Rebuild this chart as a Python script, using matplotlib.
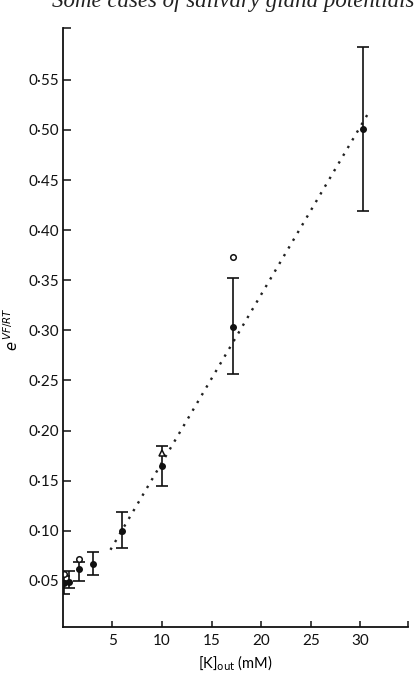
import matplotlib.pyplot as plt

# Data
k_out = [0.1, 0.6, 1.6, 3.0, 6.0, 10.0, 17.2, 30.3]          # mM
e_mean = [0.048, 0.049, 0.062, 0.067, 0.100, 0.165, 0.303, 0.501]
e_low = [0.037, 0.043, 0.050, 0.056, 0.083, 0.145, 0.256, 0.419]
e_high = [0.055, 0.060, 0.069, 0.079, 0.119, 0.185, 0.352, 0.583]

open_circle_k = [0.1, 1.6, 17.2]
open_circle_e = [0.057, 0.072, 0.373]
open_tri_k = [10.0]
open_tri_e = [0.178]

fit_k = [4.8, 30.8]
fit_e = [0.081, 0.517]

x_ticks = [5, 10, 15, 20, 25, 30]
y_ticks = [0.05, 0.10, 0.15, 0.20, 0.25, 0.30, 0.35, 0.40, 0.45, 0.50, 0.55]

plt.rcParams['font.family'] = ['Lato', 'DejaVu Sans']

fig = plt.figure(figsize=(4.19, 6.77), dpi=100)
ax = fig.add_axes([0.150, 0.074, 0.824, 0.885])

# dotted regression line
ax.plot(fit_k, fit_e, linestyle=(0, (1, 2.8)), color='#222222', linewidth=1.7)

yerr = [[m - lo for m, lo in zip(e_mean, e_low)],
        [hi - m for m, hi in zip(e_mean, e_high)]]
ax.errorbar(k_out, e_mean, yerr=yerr, fmt='o', color='#111111', markersize=4,
            elinewidth=1.2, capsize=4, capthick=1.2)

ax.plot(open_circle_k, open_circle_e, 'o', markerfacecolor='white',
        markeredgecolor='#111111', markersize=4, markeredgewidth=1.1)
ax.plot(open_tri_k, open_tri_e, '^', markerfacecolor='white',
        markeredgecolor='#111111', markersize=4.5, markeredgewidth=1.1)

ax.set_xlim(0, 34.8)
ax.set_ylim(0.004, 0.602)

ax.set_xticks(x_ticks + [34.8])
ax.set_xticklabels([str(t) for t in x_ticks] + [''])
ax.set_yticks(y_ticks + [0.602])
ax.set_yticklabels([f'{t:.2f}'.replace('.', '\u00b7') for t in y_ticks] + [''])

ax.tick_params(direction='in', width=1.1, labelsize=11, colors='#111111')
ax.tick_params(axis='y', length=6, pad=3)
ax.tick_params(axis='x', length=4, pad=5)
for side in ['top', 'right']:
    ax.spines[side].set_visible(False)
for side in ['left', 'bottom']:
    ax.spines[side].set_linewidth(1.3)
    ax.spines[side].set_color('#111111')

ax.set_xlabel(r'[K]$_{\rm out}$ (mM)', fontsize=10.5, labelpad=4)
fig.text(0.027, 0.514, r'$e^{\,VF/RT}$', rotation=90, fontsize=10.5,
         ha='center', va='center')

# clipped running head from the page
fig.text(0.125, 0.9897, 'Some cases of salivary gland potentials',
         fontsize=16.5, style='italic', family='Liberation Serif',
         ha='left', va='baseline', color='#222222')

fig.savefig('out.png', dpi=100)
